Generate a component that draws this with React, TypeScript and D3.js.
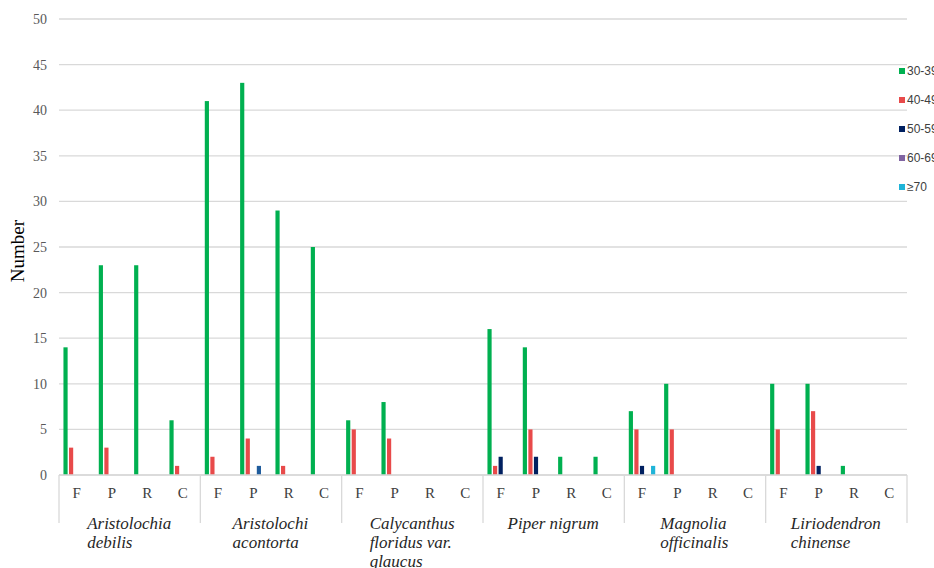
import { useLayoutEffect, useRef, useState } from "react";
import * as d3 from "d3";

const species = [
  ["Aristolochia", "debilis"],
  ["Aristolochi", "acontorta"],
  ["Calycanthus", "floridus var.", "glaucus"],
  ["Piper nigrum"],
  ["Magnolia", "officinalis"],
  ["Liriodendron", "chinense"],
];
const parts = ["F", "P", "R", "C"];
const seriesNames = ["30-39", "40-49", "50-59", "60-69", "\u226570"];
const seriesColors = ["#00b050", "#e84a4a", "#002060", "#8064a2", "#1fb4d8"];

// 24 values each: species x (F, P, R, C)
const s30 = [14, 23, 23, 6, 41, 43, 29, 25, 6, 8, 0, 0, 16, 14, 2, 2, 7, 10, 0, 0, 10, 10, 1, 0];
const s40 = [3, 3, 0, 1, 2, 4, 1, 0, 5, 4, 0, 0, 1, 5, 0, 0, 5, 5, 0, 0, 5, 7, 0, 0];
const s50 = [0, 0, 0, 0, 0, 0, 0, 0, 0, 0, 0, 0, 2, 2, 0, 0, 1, 0, 0, 0, 0, 1, 0, 0];
const s60 = [0, 0, 0, 0, 0, 1, 0, 0, 0, 0, 0, 0, 0, 0, 0, 0, 0, 0, 0, 0, 0, 0, 0, 0];
const s70 = [0, 0, 0, 0, 0, 0, 0, 0, 0, 0, 0, 0, 0, 0, 0, 0, 1, 0, 0, 0, 0, 0, 0, 0];
const allSeries = [s30, s40, s50, s60, s70];
// the one 60-69 bar in the source is painted a mid blue
const pointColor: Record<string, string> = { "3-5": "#1f5c9c" };

const yTicks = [0, 5, 10, 15, 20, 25, 30, 35, 40, 45, 50];

const W = 934;
const H = 568;
const left = 59;
const right = 907;
const top = 19;
const bottom = 475;

export default function App() {
  const keys = species.flatMap((_, i) => parts.map((p) => `${i}-${p}`));
  const x = d3.scaleBand().domain(keys).range([left, right]);
  const inner = d3
    .scaleBand()
    .domain(seriesNames)
    .range([0, x.bandwidth()])
    .paddingInner(0.25)
    .paddingOuter(0.8);
  const y = d3.scaleLinear().domain([0, 50]).range([bottom, top]);
  const groupW = x.bandwidth() * parts.length;

  const labelRefs = useRef<(SVGGElement | null)[]>([]);
  const [offsets, setOffsets] = useState<number[]>(species.map(() => 0));
  useLayoutEffect(() => {
    setOffsets(
      labelRefs.current.map((g) => (g ? -g.getBBox().width / 2 : 0))
    );
  }, []);

  return (
    <svg
      width={W}
      height={H}
      style={{ position: "absolute", left: 0, top: 0, background: "#fff" }}
    >
      {yTicks.map((t) => (
        <g key={t}>
          <line x1={left} x2={right} y1={y(t)} y2={y(t)} stroke="#d9d9d9" strokeWidth={1.3} />
          <text
            x={47}
            y={y(t)}
            dy="0.35em"
            textAnchor="end"
            fontFamily="Liberation Serif"
            fontSize={14}
            fill="#595959"
          >
            {t}
          </text>
        </g>
      ))}
      <text
        transform={`translate(24,${(top + bottom) / 2 + 4}) rotate(-90)`}
        textAnchor="middle"
        fontFamily="Liberation Serif"
        fontSize={19}
        fill="#000"
      >
        Number
      </text>

      {allSeries.map((vals, si) =>
        vals.map((v, ci) =>
          v > 0 ? (
            <rect
              key={`${si}-${ci}`}
              x={(x(keys[ci]) as number) + (inner(seriesNames[si]) as number)}
              y={y(v)}
              width={inner.bandwidth()}
              height={y(0) - y(v)}
              fill={pointColor[`${si}-${ci}`] ?? seriesColors[si]}
            />
          ) : null
        )
      )}

      <line x1={left} x2={right} y1={bottom} y2={bottom} stroke="#d9d9d9" strokeWidth={1.3} />
      {d3.range(species.length + 1).map((i) => (
        <line
          key={i}
          x1={left + i * groupW}
          x2={left + i * groupW}
          y1={bottom}
          y2={523}
          stroke="#d9d9d9"
          strokeWidth={1.3}
        />
      ))}
      {keys.map((k) => (
        <text
          key={k}
          x={(x(k) as number) + x.bandwidth() / 2}
          y={498}
          textAnchor="middle"
          fontFamily="Liberation Serif"
          fontSize={15}
          fill="#404040"
        >
          {k.split("-")[1]}
        </text>
      ))}
      {species.map((lines, i) => (
        <g
          key={i}
          ref={(el) => {
            labelRefs.current[i] = el;
          }}
          transform={`translate(${left + (i + 0.5) * groupW + offsets[i]},0)`}
        >
          {lines.map((ln, j) => (
            <text
              key={j}
              x={0}
              y={529 + j * 19}
              fontFamily="Liberation Serif"
              fontStyle="italic"
              fontSize={17}
              fill="#262626"
            >
              {ln}
            </text>
          ))}
        </g>
      ))}

      {seriesNames.map((s, i) => (
        <g key={s} transform={`translate(899,${71 + i * 29})`}>
          <rect x={0} y={-3} width={6} height={6} fill={seriesColors[i]} />
          <text x={8} y={0} dy="0.35em" fontFamily="Liberation Sans" fontSize={12} fill="#404040">
            {s}
          </text>
        </g>
      ))}
    </svg>
  );
}
